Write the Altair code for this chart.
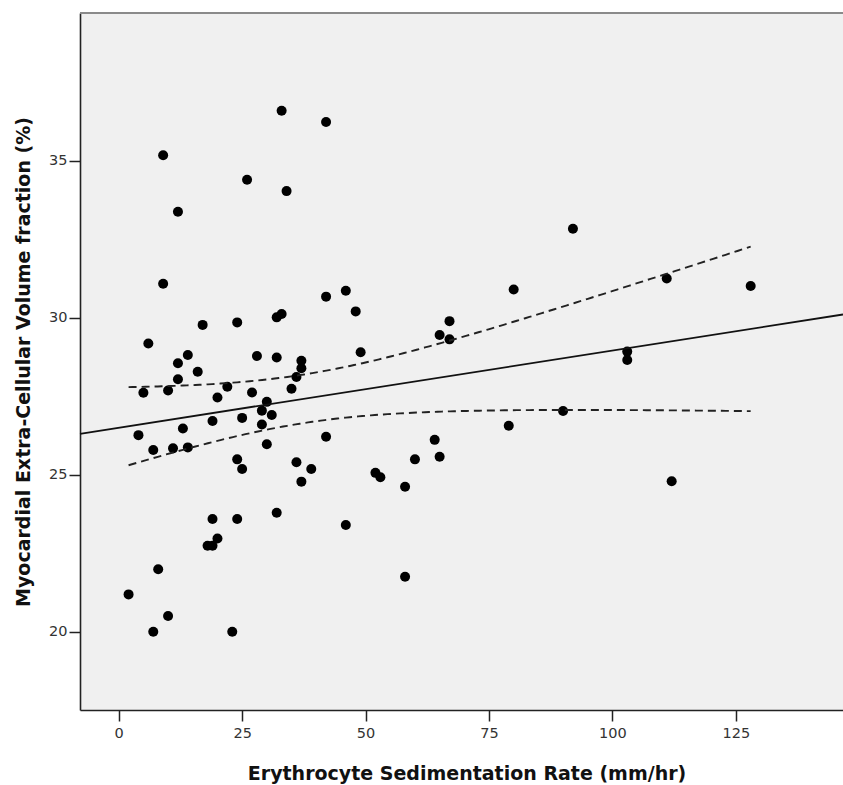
import altair as alt
import numpy as np
import pandas as pd

# Erythrocyte sedimentation rate (mm/hr) for each subject
esr = [33, 9, 26, 34, 12, 9, 17, 24, 32, 33,
       6, 14, 12, 16, 28, 32, 12, 5, 10, 22,
       27, 35, 36, 37, 37, 20, 30, 29, 31, 19,
       25, 29, 4, 13, 7, 11, 14, 30, 24, 25,
       36, 37, 19, 24, 32, 18, 19, 20, 8, 2,
       10, 7, 23, 42, 92, 42, 46, 48, 80, 67,
       65, 67, 49, 42, 39, 46, 52, 53, 58, 60,
       64, 65, 58, 79, 90, 111, 128, 103, 103, 112]

# Myocardial extracellular volume fraction (%) for the same subjects
ecv = [36.59, 35.17, 34.39, 34.03, 33.37, 31.08, 29.77, 29.85, 30.01, 30.12,
       29.18, 28.81, 28.55, 28.28, 28.78, 28.73, 28.04, 27.61, 27.68, 27.80,
       27.62, 27.74, 28.11, 28.63, 28.39, 27.46, 27.32, 27.04, 26.90, 26.71,
       26.81, 26.60, 26.26, 26.47, 25.79, 25.84, 25.87, 25.97, 25.49, 25.18,
       25.40, 24.78, 23.59, 23.59, 23.79, 22.74, 22.74, 22.97, 21.99, 21.19,
       20.50, 20.00, 20.00, 36.23, 32.83, 30.67, 30.86, 30.20, 30.90, 29.89,
       29.45, 29.31, 28.90, 26.21, 25.18, 23.40, 25.06, 24.92, 24.62, 25.49,
       26.11, 25.57, 21.75, 26.56, 27.03, 31.25, 31.01, 28.92, 28.65, 24.79]

x_ticks = [0, 25, 50, 75, 100, 125]
y_ticks = [20, 25, 30, 35]
x_domain = [-7.84, 146.7]
y_domain = [17.51, 39.70]

points = pd.DataFrame({"esr": esr, "ecv": ecv})

# Least-squares fit and 95% confidence band for the mean
xa = np.asarray(esr, float)
ya = np.asarray(ecv, float)
n = len(xa)
slope, intercept = np.polyfit(xa, ya, 1)
resid = ya - (intercept + slope * xa)
s = np.sqrt(np.sum(resid ** 2) / (n - 2))
xbar = xa.mean()
sxx = np.sum((xa - xbar) ** 2)
t_crit = 1.9908  # t(0.975, df = 78)

fit_x = np.array(x_domain)
fit = pd.DataFrame({"esr": fit_x, "ecv": intercept + slope * fit_x})

grid = np.linspace(xa.min(), xa.max(), 150)
half = t_crit * s * np.sqrt(1.0 / n + (grid - xbar) ** 2 / sxx)
centre = intercept + slope * grid
band = pd.concat([
    pd.DataFrame({"esr": grid, "ecv": centre + half, "side": "upper"}),
    pd.DataFrame({"esr": grid, "ecv": centre - half, "side": "lower"}),
])

W, H = 763, 697
FONT = "DejaVu Sans"

x_enc = alt.X(
    "esr:Q",
    scale=alt.Scale(domain=x_domain, nice=False, zero=False),
    axis=alt.Axis(
        values=x_ticks, grid=False, title="Erythrocyte Sedimentation Rate (mm/hr)",
        titleFont=FONT, titleFontSize=19, titleFontWeight="bold", titleColor="#111",
        titleX=386.5, titleY=69, titleBaseline="alphabetic", titleAnchor="start",
        titleAlign="center",
        labelFont=FONT, labelFontSize=14.5, labelColor="#333", labelPadding=5,
        tickSize=11, tickWidth=1.5, tickColor="#222",
        domainColor="#222", domainWidth=1.6,
    ),
)
y_enc = alt.Y(
    "ecv:Q",
    scale=alt.Scale(domain=y_domain, nice=False, zero=False),
    axis=alt.Axis(
        values=y_ticks, grid=False,
        title="Myocardial Extra-Cellular Volume fraction (%)",
        titleFont=FONT, titleFontSize=19, titleFontWeight="bold", titleColor="#111",
        titleX=-51, titleY=H / 2, titleAngle=-90, titleBaseline="alphabetic",
        titleAlign="center", titleAnchor="start",
        labelFont=FONT, labelFontSize=14.5, labelColor="#333", labelPadding=2,
        tickSize=11, tickWidth=1.5, tickColor="#222",
        domainColor="#222", domainWidth=1.6,
    ),
)

dots = alt.Chart(points).mark_circle(size=100, color="black", opacity=1).encode(
    x=x_enc, y=y_enc
)

fit_line = alt.Chart(fit).mark_line(color="#111", strokeWidth=1.8).encode(
    x="esr:Q", y="ecv:Q"
)

ci_lines = alt.Chart(band).mark_line(
    color="#222", strokeWidth=1.9, strokeDash=[8, 5]
).encode(x="esr:Q", y="ecv:Q", detail="side:N")

top_edge = alt.Chart(points).mark_rule(color="#8a8a8a", strokeWidth=2).encode(
    x=alt.value(0), x2=alt.value(W), y=alt.value(0)
)

chart = (
    alt.layer(dots, fit_line, ci_lines, top_edge)
    .properties(
        width=W, height=H,
        autosize=alt.AutoSizeParams(type="none"),
        padding={"left": 80, "top": 13, "right": 0, "bottom": 75},
        background="white",
    )
    .configure_view(fill="#f0f0f0", stroke=None)
)

chart.save("out.html", embed_options={"renderer": "svg", "actions": False})
